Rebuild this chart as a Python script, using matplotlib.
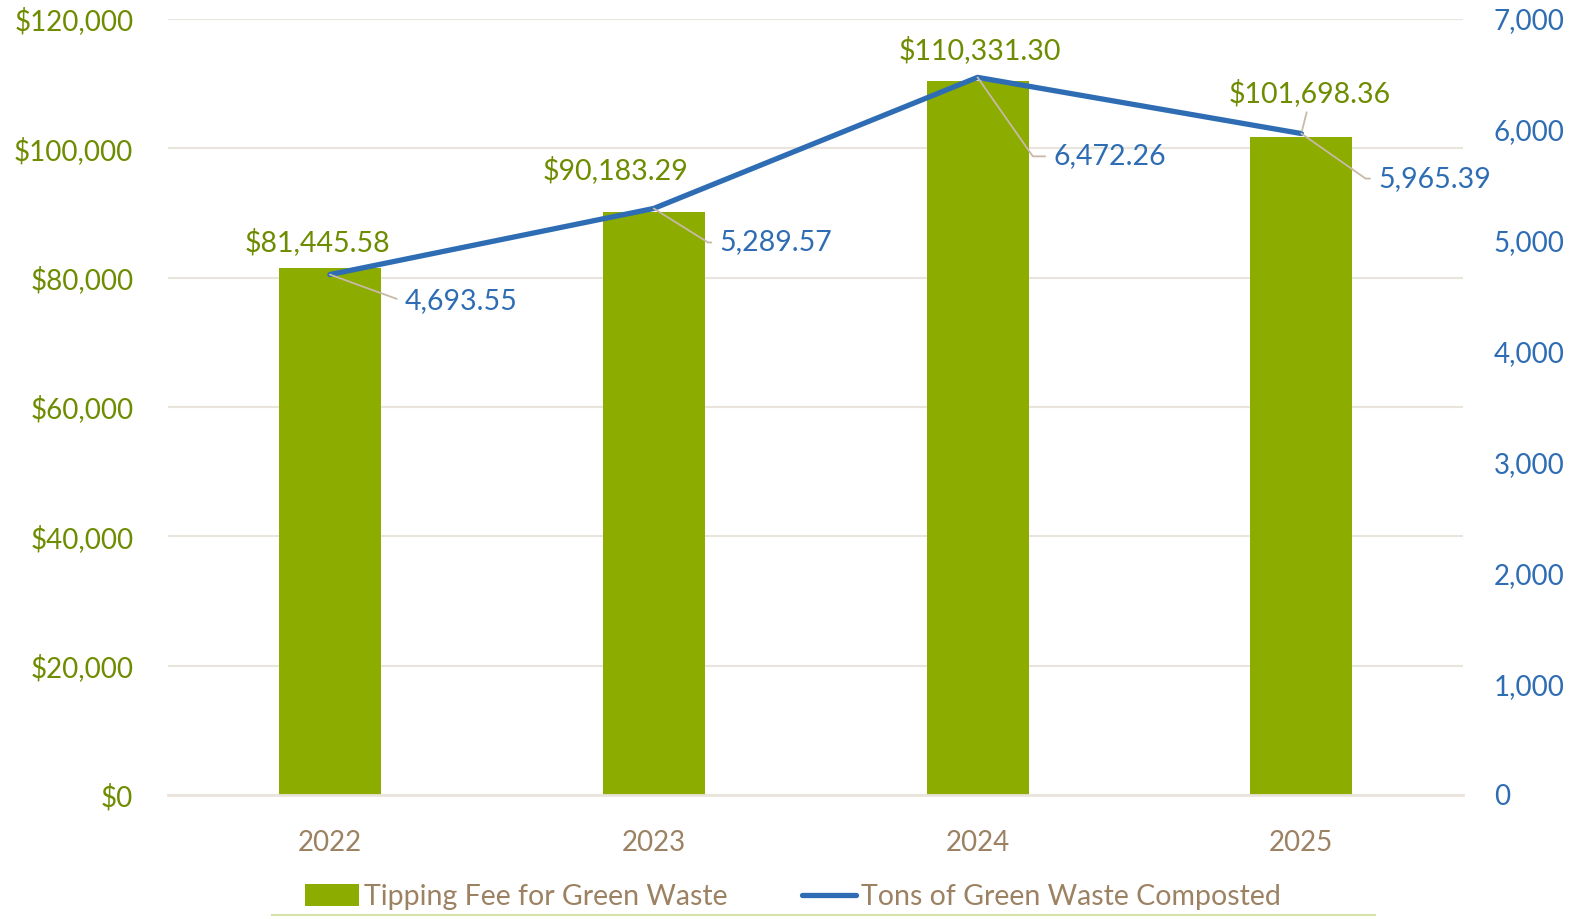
import matplotlib.pyplot as plt
from matplotlib.lines import Line2D
from matplotlib.ticker import FuncFormatter

years = ['2022', '2023', '2024', '2025']
fees = [81445.58, 90183.29, 110331.30, 101698.36]
tons = [4693.55, 5289.57, 6472.26, 5965.39]

# label offsets in pixels (manually placed in the original)
fee_offsets = [(-12, 26), (-38, 42), (2, 31), (8, 44)]
ton_offsets = [(75, -26), (66, -34), (76, -79), (77, -45)]
ton_angles = [-20, -32, -55, -35]

bar_col = '#8CAC00'
line_col = '#2E6DB4'
green_txt = '#6E8C00'
brown = '#9C8263'
grid_col = '#E9E4DC'
leader = '#C8B9A8'

plt.rcParams['font.family'] = ['Lato', 'DejaVu Sans']

fig = plt.figure(figsize=(15.7, 9.19), dpi=100)
ax = fig.add_axes([0.107, 0.135, 0.825, 0.8445])
ax2 = ax.twinx()

x = range(len(years))
ax.bar(x, fees, width=0.315, color=bar_col, zorder=2, label='Tipping Fee for Green Waste')
ax.set_xlim(-0.5, 3.5)
ax.set_ylim(0, 120000)
ax.set_yticks(range(0, 120001, 20000))
ax.yaxis.set_major_formatter(FuncFormatter(lambda v, p: '${:,.0f}'.format(v)))
ax.grid(axis='y', color=grid_col, linewidth=1.5, zorder=0)
ax.set_axisbelow(True)
ax.set_xticks(list(x))
ax.set_xticklabels(years)
ax.tick_params(axis='x', colors=brown, labelsize=20, length=0, pad=25)
ax.tick_params(axis='y', colors=green_txt, labelsize=20, length=0, pad=25)
for s in ax.spines.values():
    s.set_visible(False)
ax.spines['bottom'].set_visible(True)
ax.spines['bottom'].set_color(grid_col)
ax.spines['bottom'].set_linewidth(2)

ax2.plot(list(x), tons, color=line_col, linewidth=3.8, solid_capstyle='round', zorder=3,
         label='Tons of Green Waste Composted')
ax2.set_ylim(0, 7000)
ax2.set_yticks(range(0, 7001, 1000))
ax2.yaxis.set_major_formatter(FuncFormatter(lambda v, p: '{:,.0f}'.format(v)))
ax2.tick_params(axis='y', colors=line_col, labelsize=20, length=0, pad=22)
for s in ax2.spines.values():
    s.set_visible(False)

for i, v in enumerate(fees):
    dx, dy = fee_offsets[i]
    ax2.annotate('${:,.2f}'.format(v), xy=(i, v * 7000 / 120000), xytext=(dx, dy),
                 textcoords='offset pixels', ha='center', va='center',
                 color=green_txt, fontsize=20.5)
# small leader for the 2025 fee label
ax2.annotate('', xy=(3, tons[3]), xytext=(6, 24), textcoords='offset pixels',
             arrowprops=dict(arrowstyle='-', color=leader, lw=1.3))

for i, v in enumerate(tons):
    dx, dy = ton_offsets[i]
    ax2.annotate('{:,.2f}'.format(v), xy=(i, v), xytext=(dx, dy),
                 textcoords='offset pixels', ha='left', va='center',
                 color=line_col, fontsize=20.5,
                 arrowprops=dict(arrowstyle='-', color=leader, lw=1.3,
                                 shrinkA=4, shrinkB=0,
                                 connectionstyle='angle,angleA=0,angleB=%d,rad=0' % ton_angles[i]))

h1, l1 = ax.get_legend_handles_labels()
h2, l2 = ax2.get_legend_handles_labels()
leg = fig.legend(h1 + h2, l1 + l2, loc='center', bbox_to_anchor=(0.505, 0.024), ncol=2,
                 frameon=False, fontsize=20.5, labelcolor=brown, handlelength=1.9,
                 handleheight=0.8, handletextpad=0.18, columnspacing=2.6)
fig.add_artist(Line2D([0.173, 0.876], [0.004, 0.004], color='#D6E3A6', linewidth=1.5))

fig.savefig('out.png', dpi=100)
